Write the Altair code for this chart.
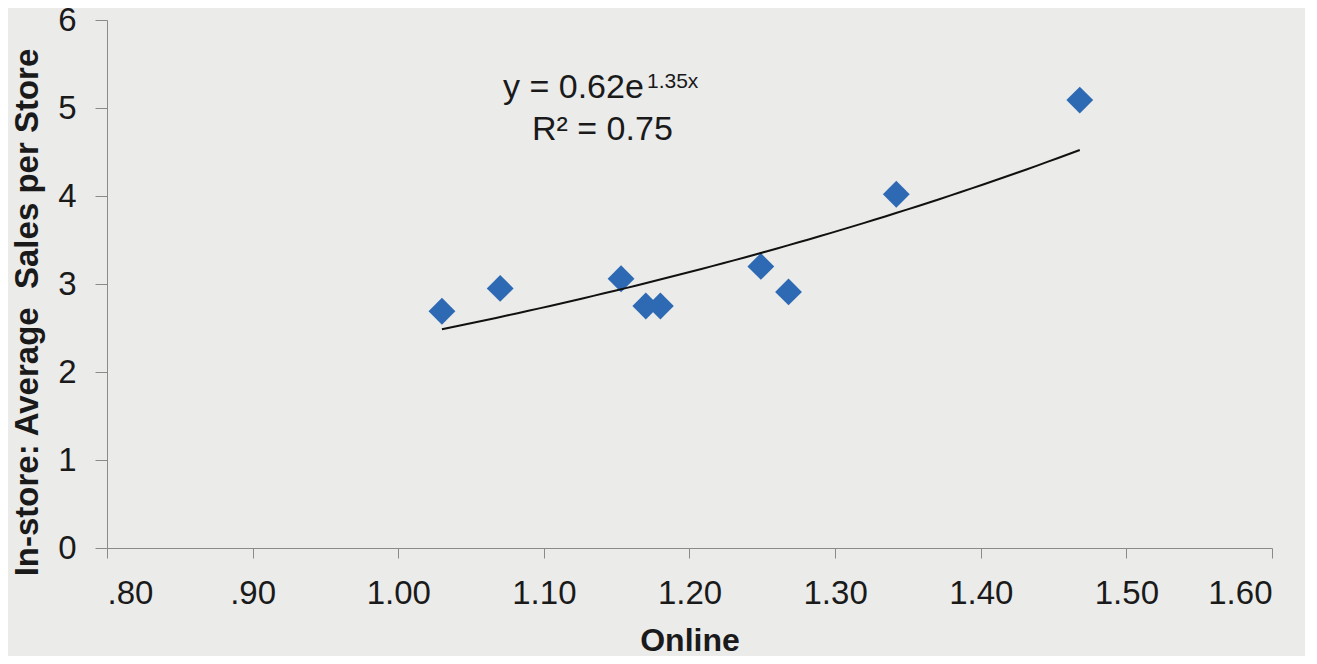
import altair as alt
import numpy as np
import pandas as pd

online = [1.030, 1.070, 1.153, 1.170, 1.180, 1.249, 1.268, 1.342, 1.468]
instore = [2.69, 2.95, 3.06, 2.75, 2.75, 3.20, 2.91, 4.02, 5.09]

df = pd.DataFrame({"Online": online, "InStore": instore})

# Exponential trendline fitted (least squares on log y) from the data itself
b, ln_a = np.polyfit(np.array(online), np.log(np.array(instore)), 1)
xs = np.linspace(min(online), max(online), 60)
trend_df = pd.DataFrame({"Online": xs, "InStore": np.exp(ln_a) * np.exp(b * xs)})

FONT = "Liberation Sans"
TXT = "#1a1a1a"
AX = "#8a8a8a"

x_enc = alt.X("Online:Q",
              scale=alt.Scale(domain=[0.8, 1.6], nice=False, zero=False),
              axis=alt.Axis(title="Online", values=[0.8, 0.9, 1.0, 1.1, 1.2, 1.3, 1.4, 1.5, 1.6],
                            labelExpr="datum.value < 1 ? slice(format(datum.value, '.2f'), 1) : format(datum.value, '.2f')",
                            grid=False, tickSize=10, labelPadding=19, labelFontSize=33,
                            titleFontSize=32, titleFontWeight="bold", titlePadding=15,
                            domainColor=AX, tickColor=AX, labelColor=TXT,
                            titleColor=TXT, labelFont=FONT, titleFont=FONT))
y_enc = alt.Y("InStore:Q",
              scale=alt.Scale(domain=[0, 6], nice=False),
              axis=alt.Axis(title="In-store: Average\u00a0 Sales per Store", values=[0, 1, 2, 3, 4, 5, 6],
                            format="d",
                            grid=False, tickSize=12, labelPadding=19, labelFontSize=33,
                            titleFontSize=33, titleFontWeight="bold",
                            titleX=-70, titleY=292, titleAlign="center", titleBaseline="alphabetic",
                            domainColor=AX, tickColor=AX, labelColor=TXT,
                            titleColor=TXT, labelFont=FONT, titleFont=FONT))

points = alt.Chart(df).mark_point(shape="diamond", filled=True, size=720, color="#2e6ab3", opacity=1).encode(
    x=x_enc, y=y_enc)

trend = alt.Chart(trend_df).mark_line(color="#111111", strokeWidth=2).encode(
    x="Online:Q", y="InStore:Q")

eq_main = alt.Chart(pd.DataFrame({"t": ["y = 0.62e"]})).mark_text(
    font=FONT, fontSize=34, align="left", baseline="alphabetic", color=TXT).encode(
    text="t:N", x=alt.value(396), y=alt.value(78))
eq_sup = alt.Chart(pd.DataFrame({"t": ["1.35x"]})).mark_text(
    font=FONT, fontSize=21, align="left", baseline="alphabetic", color=TXT).encode(
    text="t:N", x=alt.value(540), y=alt.value(68))
r2 = alt.Chart(pd.DataFrame({"t": ["R² = 0.75"]})).mark_text(
    font=FONT, fontSize=34, align="left", baseline="alphabetic", color=TXT).encode(
    text="t:N", x=alt.value(425), y=alt.value(120))

chart = alt.layer(points, trend, eq_main, eq_sup, r2).properties(
    width=1165, height=528,
    autosize=alt.AutoSizeParams(type="none"),
    padding={"left": 99, "top": 12, "right": 33, "bottom": 108},
    background="#ebebea",
).configure_view(stroke=None)

chart.save("out.html", embed_options={"renderer": "svg", "actions": False})
